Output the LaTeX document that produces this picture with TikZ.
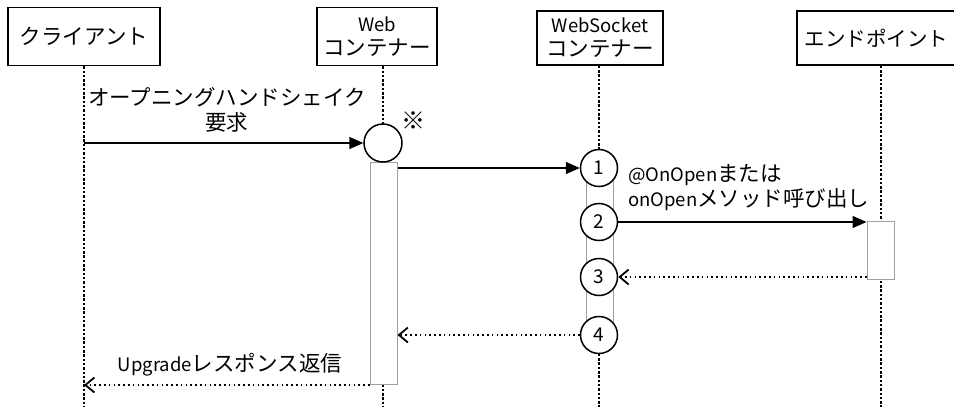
\documentclass[tikz,border=0pt]{standalone}
\usepackage{fontspec}
\setmainfont{Noto Sans CJK JP}
\usetikzlibrary{arrows.meta,positioning}
\newcommand\lat[1]{{\fontsize{18.5}{24}\selectfont #1}}
\tikzset{
  actor/.style={draw,line width=1.5pt,fill=white,font=\fontsize{21.5}{24}\selectfont,align=center,inner sep=0pt},
  lifeline/.style={line width=1.8pt,dash pattern=on 2.5pt off 1.8pt},
  actbar/.style={draw=gray!75,line width=1pt,fill=white,inner sep=0pt,minimum width=27pt},
  seqmark/.style={circle,draw,line width=1.5pt,fill=white,minimum size=37pt,inner sep=0pt,font=\fontsize{19}{20}\selectfont},
  msg/.style={-{Triangle[length=14pt,width=12pt]},line width=1.5pt},
  ret/.style={-{Straight Barb[length=9pt,width=15pt]},line width=1.8pt,dash pattern=on 1.6pt off 3.2pt},
  lbl/.style={font=\fontsize{21.5}{25}\selectfont,inner sep=0pt}
}
\begin{document}
\begin{tikzpicture}[x=1pt,y=-1pt]
\path[use as bounding box] (0,0) rectangle (954,407);
\coordinate (bot) at (0,407);

% lanes
\node[actor,minimum width=152pt,minimum height=58pt] (cl) at (84,36.5) {クライアント};
\node[actor,minimum width=120pt,minimum height=58pt] (wc) at (377,36.5) {\lat{Web}\\コンテナー};
\node[actor,minimum width=126pt,minimum height=54pt] (ws) at (600,38) {\lat{WebSocket}\\コンテナー};
\begin{scope}
\clip (0,0) rectangle (954,407);
\node[actor,anchor=west,minimum width=170pt,minimum height=54pt,text width=154pt,align=left,font=\fontsize{20.5}{24}\selectfont] (ep) at (796,38) {エンドポイント};
\end{scope}

\draw[lifeline] (cl.south) -- (cl.south |- bot);
\draw[lifeline] ([xshift=6pt]wc.south) -- ([xshift=6pt]wc.south |- bot);
\draw[lifeline] ([xshift=-1pt]ws.south) -- ([xshift=-1pt]ws.south |- bot);
\draw[lifeline] ([xshift=-1pt]ep.south) -- ([xshift=-1pt]ep.south |- bot);

% activations
\node[actbar,minimum height=222pt,anchor=north] (wbar) at (383.5,162) {};
\node[actbar,minimum height=167pt,anchor=north] (sbar) at (599.5,168) {};
\node[actbar,minimum height=58pt,anchor=north] (ebar) at (880.5,221) {};

\node[seqmark,minimum size=38pt] (hs) at (383,143) {};
\node[lbl,font=\fontsize{24}{25}\selectfont] (note) at (413,121) {※};
\node[seqmark] (c1) at (599,168) {1};
\node[seqmark] (c2) at (599,222) {2};
\node[seqmark] (c3) at (599,277) {3};
\node[seqmark] (c4) at (599,335) {4};

% messages
\draw[msg] (cl.south |- hs) -- (hs.west);
\node[lbl,align=center] (req) at (227,109.5) {オープニングハンドシェイク\\要求};
\draw[msg] (c1.west -| wbar.east) -- (c1.west);
\node[lbl,anchor=west,align=left] (call) at (628,188) {\lat{@OnOpen}または\\\lat{onOpen}メソッド呼び出し};
\draw[msg] (c2.east) -- (c2.east -| ebar.west);
\draw[ret] (c3.east -| ebar.west) -- (c3.east);
\draw[ret] (c4.west) -- (c4.west -| wbar.east);
\draw[ret] (wbar.south west) -- (wbar.south west -| cl.south);
\node[lbl] (resp) at (230,365) {\lat{Upgrade}レスポンス返信};
\end{tikzpicture}
\end{document}
